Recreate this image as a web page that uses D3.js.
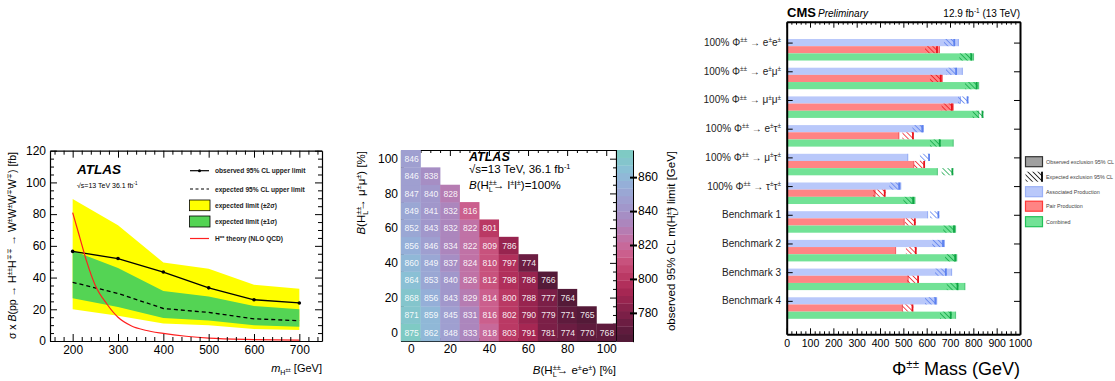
<!DOCTYPE html>
<html>
<head>
<meta charset="utf-8">
<script src="https://cdn.jsdelivr.net/npm/d3@7"></script>
<style>
  body { margin: 0; background: #fff; }
  svg { font-family: "Liberation Sans", Arial, Helvetica, sans-serif; }
</style>
</head>
<body>
<svg id="chart" width="1115" height="381"></svg>
<script>
// ---------- panel 1 : ATLAS H++ -> WW limits ----------
var massPoints = [200, 300, 400, 500, 600, 700];
var observed   = [56.5, 52, 43.5, 33.5, 26, 24];
var expected   = [37, 30, 20.5, 18, 14, 12.8];
var exp1Up     = [57, 46, 31.5, 28, 22, 20];
var exp1Dn     = [27, 21.5, 14.5, 13, 10, 9];
var exp2Up     = [89.5, 73, 49.5, 45.5, 35.5, 33];
var exp2Dn     = [20, 16, 11, 10, 7.5, 7];
var theoryMass = [200, 215, 230, 250, 275, 300, 330, 360, 400, 450, 500, 600, 700];
var theoryXsec = [81, 66, 51, 35, 23.5, 15, 9.5, 6.8, 4.8, 3, 1.8, 0.9, 0.5];
var massTicks  = [200, 300, 400, 500, 600, 700];
var xsecTicks  = [0, 20, 40, 60, 80, 100, 120];

// ---------- panel 2 : ATLAS mass limit vs branching ratios ----------
var brEE   = [0, 10, 20, 30, 40, 50, 60, 70, 80, 90, 100];
var brMuMu = [0, 10, 20, 30, 40, 50, 60, 70, 80, 90, 100];
// massLimits[row] -> BR(mumu) = brMuMu[row], columns BR(ee) = brEE[col]
var massLimits = [
  [875, 862, 848, 833, 818, 803, 791, 781, 774, 770, 768],
  [871, 859, 845, 831, 816, 802, 790, 779, 771, 765],
  [868, 856, 843, 829, 814, 800, 788, 777, 764],
  [864, 853, 840, 826, 812, 798, 786, 766],
  [860, 849, 837, 824, 810, 797, 774],
  [856, 846, 834, 822, 809, 786],
  [852, 843, 832, 822, 801],
  [849, 841, 832, 816],
  [847, 840, 828],
  [846, 838],
  [846]
];
var brTicks = [0, 20, 40, 60, 80, 100];
var zTicks  = [780, 800, 820, 840, 860];
var zStops  = [763, 772, 782, 792, 800, 808, 816, 824, 832, 840, 848, 856, 864, 876];
var zColors = ["#4e1935", "#651c3f", "#85214a", "#a52652", "#b83560", "#c64b75", "#cc6290",
               "#c072a6", "#ae84bb", "#a293c8", "#9ea2d2", "#95b0d8", "#8bbfd6", "#7ccdc0"];

// ---------- panel 3 : CMS Phi++ exclusion ----------
var categories = ["100% Φ^{±±} → e^{±}e^{±}", "100% Φ^{±±} → e^{±}μ^{±}", "100% Φ^{±±} → μ^{±}μ^{±}",
                  "100% Φ^{±±} → e^{±}τ^{±}", "100% Φ^{±±} → μ^{±}τ^{±}", "100% Φ^{±±} → τ^{±}τ^{±}",
                  "Benchmark 1", "Benchmark 2", "Benchmark 3", "Benchmark 4"];
var productions = ["Associated Production", "Pair Production", "Combined"];
var obsAssoc  = [736, 753, 745, 586, 519, 489, 604, 676, 707, 643];
var expAssoc  = [722, 730, 779, 585, 614, 486, 654, 674, 686, 641];
var loAssoc   = [674, 683, 735, 539, 571, 440, 614, 624, 636, 593];
var obsPair   = [655, 667, 714, 481, 545, 379, 504, 467, 521, 496];
var expPair   = [648, 664, 712, 545, 593, 424, 553, 557, 567, 543];
var loPair    = [593, 614, 664, 496, 546, 371, 507, 511, 517, 496];
var obsComb   = [801, 823, 823, 714, 646, 550, 724, 729, 764, 724];
var expComb   = [795, 818, 843, 660, 714, 546, 721, 726, 736, 707];
var loComb    = [740, 764, 797, 614, 664, 500, 671, 679, 686, 657];
var cmsTicks  = [0, 100, 200, 300, 400, 500, 600, 700, 800, 900, 1000];

var svg = d3.select("#chart");

// small markup: ^{sup} _{sub} *{italic} ~{sup on a sub}
function rich(sel, str, size) {
  var tokens = str.split(/(\^\{[^}]*\}|_\{[^}]*\}|\*\{[^}]*\}|~\{[^}]*\})/g).filter(function(s) { return s.length; });
  var shift = 0, lastSup = null;
  tokens.forEach(function(tok) {
    var kind = "n", txt = tok;
    if (tok.indexOf("^{") === 0) { kind = "sup"; txt = tok.slice(2, -1); }
    else if (tok.indexOf("_{") === 0) { kind = "sub"; txt = tok.slice(2, -1); }
    else if (tok.indexOf("*{") === 0) { kind = "it"; txt = tok.slice(2, -1); }
    else if (tok.indexOf("~{") === 0) { kind = "ssup"; txt = tok.slice(2, -1); }
    var target = kind === "sup" ? -size * 0.38 : kind === "sub" ? size * 0.3 : kind === "ssup" ? size * 0.02 : 0;
    var t = sel.append("tspan").text(txt).attr("dy", target - shift);
    if (kind === "sup" || kind === "sub") t.attr("font-size", size * 0.64);
    if (kind === "ssup") t.attr("font-size", size * 0.45);
    if (kind === "it") t.attr("font-style", "italic");
    if (kind === "sub" && lastSup) t.attr("dx", -lastSup.node().getComputedTextLength());
    shift = target;
    lastSup = kind === "sup" ? t : null;
  });
  return sel;
}

function label(g, x, y, str, size, anchor, extra) {
  var t = g.append("text").attr("x", x).attr("y", y).attr("font-size", size)
    .attr("text-anchor", anchor || "start").attr("fill", "#000");
  if (extra) extra(t);
  return rich(t, str, size);
}

// inward ticks on all four sides of a frame
function frameAxes(g, x, y, opt) {
  var xl = d3.min(x.range()), xr = d3.max(x.range());
  var yt = d3.min(y.range()), yb = d3.max(y.range());
  var sides = [
    [function() { return d3.axisBottom(x); }, "translate(0," + yb + ")", opt.xMajor, opt.xMinor, true, opt.xFmt],
    [function() { return d3.axisTop(x); }, "translate(0," + yt + ")", opt.xMajor, opt.xMinor, false, null],
    [function() { return d3.axisLeft(y); }, "translate(" + xl + ",0)", opt.yMajor, opt.yMinor, opt.yLabels !== false, opt.yFmt],
    [function() { return d3.axisRight(y); }, "translate(" + xr + ",0)", opt.yMajor, opt.yMinor, false, null]
  ];
  sides.forEach(function(s) {
    var maj = s[0]().tickValues(s[2]).tickSizeInner(-opt.major).tickSizeOuter(0).tickPadding(opt.pad);
    if (!s[4]) maj.tickFormat("");
    else maj.tickFormat(s[5] || d3.format("d"));
    var ga = g.append("g").attr("transform", s[1]).call(maj);
    ga.select(".domain").attr("stroke", "#000").attr("stroke-width", opt.frame);
    ga.selectAll(".tick line").attr("stroke", opt.tickColor || "#000").attr("stroke-width", opt.tickW || 1);
    ga.selectAll(".tick text").attr("font-size", opt.fs).attr("fill", "#000")
      .attr("font-family", "'Liberation Sans', Arial, sans-serif");
    if (s[3]) {
      var minAxis = s[0]().tickValues(s[3]).tickSizeInner(-opt.minor).tickSizeOuter(0).tickFormat("");
      var gm = g.append("g").attr("transform", s[1]).call(minAxis);
      gm.select(".domain").remove();
      gm.selectAll(".tick line").attr("stroke", "#000").attr("stroke-width", opt.tickW || 1);
    }
  });
}

function range(a, b, s) { return d3.range(a, b + s / 2, s); }

// ================= PANEL 1 =================
(function() {
  var g = svg.append("g");
  var x = d3.scaleLinear().domain([150, 750]).range([50, 322]);
  var y = d3.scaleLinear().domain([0, 120]).range([341, 150.7]);
  var pts = massPoints.map(function(m, i) { return i; });

  var area = function(lo, hi) {
    return d3.area().x(function(i) { return x(massPoints[i]); })
      .y0(function(i) { return y(lo[i]); }).y1(function(i) { return y(hi[i]); });
  };
  g.append("path").attr("d", area(exp2Dn, exp2Up)(pts)).attr("fill", "#ffff00");
  g.append("path").attr("d", area(exp1Dn, exp1Up)(pts)).attr("fill", "#54d454");

  var line = function(vals) {
    return d3.line().x(function(i) { return x(massPoints[i]); }).y(function(i) { return y(vals[i]); });
  };
  g.append("path").attr("d", line(expected)(pts)).attr("fill", "none")
    .attr("stroke", "#000").attr("stroke-width", 1.3).attr("stroke-dasharray", "4,3");
  g.append("path").attr("d", line(observed)(pts)).attr("fill", "none")
    .attr("stroke", "#000").attr("stroke-width", 1.3);
  g.selectAll("circle.obs").data(pts).enter().append("circle").attr("class", "obs")
    .attr("cx", function(i) { return x(massPoints[i]); }).attr("cy", function(i) { return y(observed[i]); })
    .attr("r", 1.8).attr("fill", "#000");

  var th = theoryMass.map(function(m, i) { return [m, theoryXsec[i]]; });
  g.append("path").attr("d", d3.line().curve(d3.curveMonotoneX)
      .x(function(d) { return x(d[0]); }).y(function(d) { return y(d[1]); })(th))
    .attr("fill", "none").attr("stroke", "#ff2020").attr("stroke-width", 1.2);

  frameAxes(g, x, y, {
    xMajor: massTicks, xMinor: range(160, 740, 20).filter(function(v) { return v % 100; }),
    yMajor: xsecTicks, yMinor: range(5, 115, 5).filter(function(v) { return v % 20; }),
    major: 7, minor: 4, pad: 4, fs: 12, frame: 1.2
  });

  // texts
  g.append("text").attr("x", 77).attr("y", 174).attr("font-size", 13.5).attr("font-weight", "bold")
    .attr("font-style", "italic").text("ATLAS");
  label(g, 77, 188, "√s=13 TeV    36.1 fb^{-1}", 7);

  var lg = g.append("g").attr("font-weight", "bold");
  lg.append("line").attr("x1", 190).attr("x2", 209).attr("y1", 170.7).attr("y2", 170.7)
    .attr("stroke", "#000").attr("stroke-width", 1.2);
  lg.append("circle").attr("cx", 199.5).attr("cy", 170.7).attr("r", 1.5);
  lg.append("line").attr("x1", 190).attr("x2", 209).attr("y1", 189).attr("y2", 189)
    .attr("stroke", "#000").attr("stroke-width", 1.2).attr("stroke-dasharray", "3,2.5");
  lg.append("rect").attr("x", 189.5).attr("y", 200).attr("width", 20.5).attr("height", 10.7)
    .attr("fill", "#ffff00").attr("stroke", "#000").attr("stroke-width", 0.8);
  lg.append("rect").attr("x", 189.5).attr("y", 216).attr("width", 20.5).attr("height", 11)
    .attr("fill", "#54d454").attr("stroke", "#000").attr("stroke-width", 0.8);
  lg.append("line").attr("x1", 190).attr("x2", 209).attr("y1", 238.5).attr("y2", 238.5)
    .attr("stroke", "#ff2020").attr("stroke-width", 1.2);
  var lt = function(yy, s) { label(lg, 215, yy, s, 6.6).attr("font-weight", "bold").attr("fill", "#222"); };
  lt(173, "observed 95% CL upper limit");
  lt(191.5, "expected 95% CL upper limit");
  lt(208, "expected limit (±2σ)");
  lt(224, "expected limit (±1σ)");
  lt(241, "H^{±±} theory (NLO QCD)");

  label(g, 322, 372, "*{m}_{H}~{±±} [GeV]", 11, "end");
  label(g, 0, 0, "σ x *{B}(pp → H^{±±}H^{∓∓} → W^{±}W^{±}W^{∓}W^{∓}) [fb]", 10.5, "end",
    function(t) { t.attr("transform", "translate(16,152) rotate(-90)"); });
})();

// ================= PANEL 2 =================
(function() {
  var g = svg.append("g");
  var x = d3.scaleLinear().domain([-5, 105]).range([401, 616]);
  var y = d3.scaleLinear().domain([-5, 105]).range([341, 150]);
  var zLin = d3.scaleLinear().domain(zStops).range(zColors).interpolate(d3.interpolateRgb);
  var zMin = 763, zMax = 876, nBands = 25, bw = (zMax - zMin) / nBands;
  var band = function(v) {
    var k = Math.min(nBands - 1, Math.max(0, Math.floor((v - zMin) / bw)));
    return zLin(zMin + (k + 0.5) * bw);
  };

  var cells = [];
  massLimits.forEach(function(row, r) {
    row.forEach(function(v, c) { cells.push({ ee: brEE[c], mm: brMuMu[r], v: v }); });
  });
  var cg = g.selectAll("g.cell").data(cells).enter().append("g").attr("class", "cell");
  cg.append("rect")
    .attr("x", function(d) { return x(d.ee - 5); })
    .attr("y", function(d) { return y(d.mm + 5); })
    .attr("width", function(d) { return x(d.ee + 5) - x(d.ee - 5) + 0.3; })
    .attr("height", function(d) { return y(d.mm - 5) - y(d.mm + 5) + 0.3; })
    .attr("fill", function(d) { return band(d.v); });

  frameAxes(g, x, y, {
    xMajor: brTicks, xMinor: range(-5, 105, 5).filter(function(v) { return v % 20; }),
    yMajor: brTicks, yMinor: range(-5, 105, 5).filter(function(v) { return v % 20; }),
    major: 6, minor: 3, pad: 3, fs: 12, frame: 1.2
  });

  cg.append("text")
    .attr("x", function(d) { return x(d.ee) + 0.8; })
    .attr("y", function(d) { return y(d.mm) + 3.2; })
    .attr("text-anchor", "middle").attr("font-size", 8.6).attr("fill", "#fff").attr("fill-opacity", 0.92)
    .text(function(d) { return d.v; });
  cg.raise();

  // colour bar
  var zy = d3.scaleLinear().domain([zMin, zMax]).range([341.7, 150]);
  var bands = d3.range(nBands).map(function(k) { return zMin + k * bw; });
  g.selectAll("rect.cb").data(bands).enter().append("rect").attr("class", "cb")
    .attr("x", 617).attr("width", 16)
    .attr("y", function(v) { return zy(v + bw); })
    .attr("height", function(v) { return zy(v) - zy(v + bw) + 0.3; })
    .attr("fill", function(v) { return zLin(v + bw / 2); });
  var za = g.append("g").attr("transform", "translate(633,0)")
    .call(d3.axisRight(zy).tickValues(zTicks).tickSizeInner(4).tickSizeOuter(0).tickPadding(1));
  za.select(".domain").attr("stroke", "#000").attr("stroke-width", 1);
  za.selectAll(".tick line").attr("stroke", "#000").attr("stroke-width", 2).attr("x1", -3).attr("x2", 4);
  za.selectAll(".tick text").attr("font-size", 12).attr("fill", "#000");

  g.append("text").attr("x", 469).attr("y", 161).attr("font-size", 12.5).attr("font-weight", "bold")
    .attr("font-style", "italic").text("ATLAS");
  label(g, 469, 173, "√s=13 TeV, 36.1 fb^{-1}", 11.5);
  label(g, 469, 189, "*{B}(H^{±±}_{L}→ l^{±}l^{±})=100%", 11.5);

  label(g, 616, 374, "*{B}(H^{±±}_{L}→ e^{±}e^{±}) [%]", 11.5, "end");
  label(g, 0, 0, "*{B}(H^{±±}_{L}→ μ^{±}μ^{±}) [%]", 11.5, "end",
    function(t) { t.attr("transform", "translate(365,151) rotate(-90)"); });
  label(g, 0, 0, "observed 95% CL  m(H^{±±}_{L}) limit [GeV]", 11.5, "middle",
    function(t) { t.attr("transform", "translate(675,241) rotate(-90)"); });
})();

// ================= PANEL 3 =================
(function() {
  var g = svg.append("g");
  var x = d3.scaleLinear().domain([0, 1000]).range([786.7, 1020]);
  var y = d3.scaleLinear().domain([-0.603, 10.29]).range([21.7, 334.3]);
  var defs = svg.append("defs");
  var styles = [
    { fill: "#b9c8fa", dark: "#5b80ee", id: "hB", obs: obsAssoc, exp: expAssoc, lo: loAssoc },
    { fill: "#ff8484", dark: "#e8141e", id: "hR", obs: obsPair, exp: expPair, lo: loPair },
    { fill: "#72e296", dark: "#0fa444", id: "hG", obs: obsComb, exp: expComb, lo: loComb }
  ];
  styles.concat([{ dark: "#000", id: "hK" }]).forEach(function(s) {
    var p = defs.append("pattern").attr("id", s.id).attr("patternUnits", "userSpaceOnUse")
      .attr("width", 3.6).attr("height", 3.6).attr("patternTransform", "rotate(-45)");
    p.append("line").attr("x1", 0).attr("x2", 0).attr("y1", 0).attr("y2", 3.6)
      .attr("stroke", s.dark).attr("stroke-width", 1.5);
  });

  var bh = y(0.25) - y(0);
  styles.forEach(function(s, j) {
    var bars = g.append("g");
    categories.forEach(function(c, i) {
      var top = y(i + j * 0.25);
      bars.append("rect").attr("x", x(0)).attr("y", top).attr("width", x(s.obs[i]) - x(0)).attr("height", bh)
        .attr("fill", s.fill);
      bars.append("line").attr("x1", x(s.obs[i])).attr("x2", x(s.obs[i])).attr("y1", top).attr("y2", top + bh)
        .attr("stroke", s.dark).attr("stroke-width", 0.8).attr("stroke-opacity", 0.7);
      bars.append("rect").attr("x", x(s.lo[i])).attr("y", top).attr("width", x(s.exp[i]) - x(s.lo[i]))
        .attr("height", bh).attr("fill", "url(#" + s.id + ")");
      bars.append("line").attr("x1", x(s.exp[i]) - 0.9).attr("x2", x(s.exp[i]) - 0.9)
        .attr("y1", top).attr("y2", top + bh).attr("stroke", s.dark).attr("stroke-width", 1.8);
    });
  });

  var yTicks = categories.map(function(c, i) { return i + 0.125; });
  frameAxes(g, x, y, {
    xMajor: cmsTicks, xMinor: range(20, 980, 20).filter(function(v) { return v % 100; }),
    yMajor: yTicks, yMinor: null, yLabels: false,
    major: 6, minor: 3, pad: 5, fs: 10.5, frame: 2, tickW: 1
  });

  categories.forEach(function(c, i) {
    label(g, 781, y(i + 0.125) + 3.5, c, 10, "end").attr("fill", "#222");
  });

  g.append("text").attr("x", 787).attr("y", 17).attr("font-size", 13).attr("font-weight", "bold").text("CMS");
  g.append("text").attr("x", 818).attr("y", 17).attr("font-size", 10).attr("font-style", "italic").text("Preliminary");
  label(g, 1020, 17, "12.9 fb^{-1} (13 TeV)", 10, "end");
  label(g, 1020, 375, "Φ^{±±} Mass (GeV)", 18, "end");

  // legend
  var leg = g.append("g");
  var legendItems = ["Observed exclusion 95% CL", "Expected exclusion 95% CL"].concat(productions);
  var legY = [161.7, 176.7, 191.7, 206.2, 221.7];
  var boxFill = ["#a0a0a0", "url(#hK)", "#b9c8fa", "#ff8484", "#72e296"];
  var boxStroke = ["#333", "none", "#9ab0f6", "#ff3838", "#22c058"];
  legendItems.forEach(function(t, k) {
    leg.append("rect").attr("x", 1025.5).attr("y", legY[k] - 5).attr("width", 17).attr("height", 10)
      .attr("fill", boxFill[k]).attr("stroke", boxStroke[k]).attr("stroke-width", 1.2);
    if (k === 1) leg.append("line").attr("x1", 1042).attr("x2", 1042).attr("y1", legY[k] - 5).attr("y2", legY[k] + 5)
      .attr("stroke", "#000").attr("stroke-width", 1.8);
    leg.append("text").attr("x", 1046).attr("y", legY[k] + 2).attr("font-size", 5.4).attr("fill", "#444").text(t);
  });
})();
</script>
</body>
</html>
